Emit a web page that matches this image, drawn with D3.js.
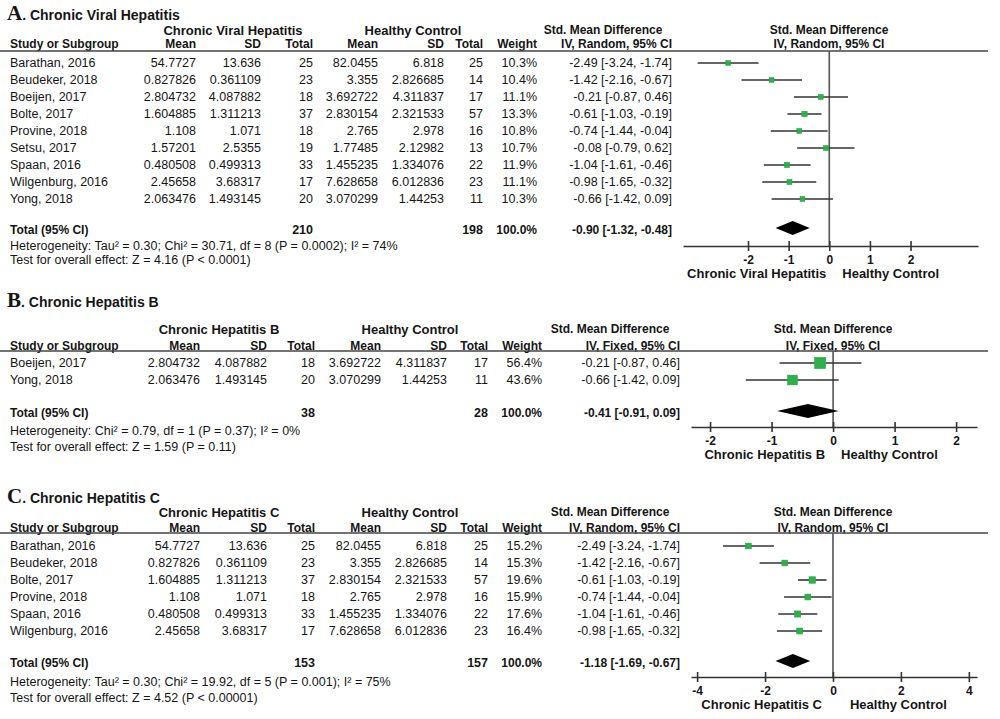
<!DOCTYPE html>
<html>
<head>
<meta charset="utf-8">
<script src="https://cdn.jsdelivr.net/npm/d3@7"></script>
<style>
  body { margin: 0; background: #fff; }
  svg text { font-family: "Liberation Sans", Arial, sans-serif; fill: #151515; }
</style>
</head>
<body>
<div id="canvas"></div>
<script>
// study level data (shared by all three panels)
var studies  = ["Barathan, 2016", "Beudeker, 2018", "Boeijen, 2017", "Bolte, 2017", "Provine, 2018",
                "Setsu, 2017", "Spaan, 2016", "Wilgenburg, 2016", "Yong, 2018"];
var caseMean = [54.7727, 0.827826, 2.804732, 1.604885, 1.108, 1.57201, 0.480508, 2.45658, 2.063476];
var caseSD   = [13.636, 0.361109, 4.087882, 1.311213, 1.071, 2.5355, 0.499313, 3.68317, 1.493145];
var caseN    = [25, 23, 18, 37, 18, 19, 33, 17, 20];
var ctrlMean = [82.0455, 3.355, 3.692722, 2.830154, 2.765, 1.77485, 1.455235, 7.628658, 3.070299];
var ctrlSD   = [6.818, 2.826685, 4.311837, 2.321533, 2.978, 2.12982, 1.334076, 6.012836, 1.44253];
var ctrlN    = [25, 14, 17, 57, 16, 13, 22, 23, 11];
var smd      = [-2.49, -1.42, -0.21, -0.61, -0.74, -0.08, -1.04, -0.98, -0.66];
var ciLow    = [-3.24, -2.16, -0.87, -1.03, -1.44, -0.79, -1.61, -1.65, -1.42];
var ciHigh   = [-1.74, -0.67, 0.46, -0.19, -0.04, 0.62, -0.46, -0.32, 0.09];

// panel membership and weights
var membersA = [0, 1, 2, 3, 4, 5, 6, 7, 8];
var weightsA = [10.3, 10.4, 11.1, 13.3, 10.8, 10.7, 11.9, 11.1, 10.3];
var membersB = [2, 8];
var weightsB = [56.4, 43.6];
var membersC = [0, 1, 3, 4, 6, 7];
var weightsC = [15.2, 15.3, 19.6, 15.9, 17.6, 16.4];

// pooled results: [smd, low, high, caseTotal, ctrlTotal]
var pooledA = [-0.90, -1.32, -0.48, 210, 198];
var pooledB = [-0.41, -0.91, 0.09, 38, 28];
var pooledC = [-1.18, -1.69, -0.67, 153, 157];

var ticksA = [-2, -1, 0, 1, 2];
var ticksB = [-2, -1, 0, 1, 2];
var ticksC = [-4, -2, 0, 2, 4];

var hetA = "Heterogeneity: Tau\u00b2 = 0.30; Chi\u00b2 = 30.71, df = 8 (P = 0.0002); I\u00b2 = 74%";
var hetB = "Heterogeneity: Chi\u00b2 = 0.79, df = 1 (P = 0.37); I\u00b2 = 0%";
var hetC = "Heterogeneity: Tau\u00b2 = 0.30; Chi\u00b2 = 19.92, df = 5 (P = 0.001); I\u00b2 = 75%";
var testA = "Test for overall effect: Z = 4.16 (P < 0.0001)";
var testB = "Test for overall effect: Z = 1.59 (P = 0.11)";
var testC = "Test for overall effect: Z = 4.52 (P < 0.00001)";

var svg = d3.select("#canvas").append("svg").attr("width", 1000).attr("height", 719);

var colsA  = { study: 10, m1: 196, s1: 261, n1: 313, m2: 378, s2: 444, n2: 483, w: 537, ci: 672, g1: 233, g2: 413, smdHead: 603 };
var colsBC = { study: 10, m1: 200, s1: 267, n1: 315, m2: 381, s2: 447, n2: 488, w: 542, ci: 680, g1: 219, g2: 410, smdHead: 610 };

function fmtCI(e, lo, hi) {
    return e.toFixed(2) + " [" + lo.toFixed(2) + ", " + hi.toFixed(2) + "]";
}

function txt(g, x, y, s, anchor, size, bold) {
    return g.append("text")
        .attr("x", x).attr("y", y).attr("dy", "0.35em")
        .attr("text-anchor", anchor || "start")
        .style("font-size", (size || 12.5) + "px")
        .style("font-weight", bold ? "bold" : "normal")
        .text(s);
}

function drawPanel(p) {
    var g = svg.append("g");
    var c = p.cols;

    // title: serif letter + sans label
    var t = g.append("text").attr("x", 7).attr("y", p.titleY).attr("dy", "0.35em");
    t.append("tspan").style("font-family", "'Liberation Serif', 'DejaVu Serif', serif")
        .style("font-size", "21px").style("font-weight", "bold").text(p.letter);
    t.append("tspan").style("font-size", "14px").style("font-weight", "bold").text(". " + p.title);

    // group headers
    txt(g, c.g1, p.groupY, p.group, "middle", 13, true);
    txt(g, c.g2, p.groupY, "Healthy Control", "middle", 13, true);
    txt(g, c.smdHead, p.groupY, "Std. Mean Difference", "middle", 12, true);
    txt(g, p.zeroX, p.groupY, "Std. Mean Difference", "middle", 12, true);

    // column headers
    txt(g, c.study, p.headY, "Study or Subgroup", "start", 12, true);
    [["m1", "Mean"], ["s1", "SD"], ["n1", "Total"], ["m2", "Mean"], ["s2", "SD"], ["n2", "Total"], ["w", "Weight"]]
        .forEach(function(h) { txt(g, c[h[0]], p.headY, h[1], "end", 12, true); });
    txt(g, c.ci, p.headY, "IV, " + p.model + ", 95% CI", "end", 12, true);
    txt(g, p.zeroX, p.headY, "IV, " + p.model + ", 95% CI", "middle", 12, true);

    g.append("line").attr("x1", 0).attr("x2", 988).attr("y1", p.ruleY).attr("y2", p.ruleY)
        .attr("stroke", "#444").attr("stroke-width", 1.6);

    var x = d3.scaleLinear().domain(p.domain).range(p.range);
    var rows = p.members.map(function(idx, i) {
        return { idx: idx, w: p.weights[i], y: p.rowY0 + i * 17 };
    });

    // table rows
    rows.forEach(function(r) {
        var k = r.idx;
        txt(g, c.study, r.y, studies[k], "start");
        txt(g, c.m1, r.y, String(caseMean[k]), "end");
        txt(g, c.s1, r.y, String(caseSD[k]), "end");
        txt(g, c.n1, r.y, String(caseN[k]), "end");
        txt(g, c.m2, r.y, String(ctrlMean[k]), "end");
        txt(g, c.s2, r.y, String(ctrlSD[k]), "end");
        txt(g, c.n2, r.y, String(ctrlN[k]), "end");
        txt(g, c.w, r.y, r.w.toFixed(1) + "%", "end");
        txt(g, c.ci, r.y, fmtCI(smd[k], ciLow[k], ciHigh[k]), "end");
    });

    // totals
    var pl = p.pooled;
    txt(g, c.study, p.totalY, "Total (95% CI)", "start", 12, true);
    txt(g, c.n1, p.totalY, String(pl[3]), "end", 12.5, true);
    txt(g, c.n2, p.totalY, String(pl[4]), "end", 12.5, true);
    txt(g, c.w, p.totalY, "100.0%", "end", 12, true);
    txt(g, c.ci, p.totalY, fmtCI(pl[0], pl[1], pl[2]), "end", 12, true);
    txt(g, c.study, p.hetY, p.het, "start", 12.5);
    txt(g, c.study, p.testY, p.test, "start", 12.5);

    // zero line
    g.append("line").attr("x1", x(0)).attr("x2", x(0)).attr("y1", p.ruleY).attr("y2", p.axisY)
        .attr("stroke", "#555").attr("stroke-width", 1.6);

    // CI lines and squares
    g.selectAll(".ci").data(rows).enter().append("line")
        .attr("x1", function(r) { return x(ciLow[r.idx]); })
        .attr("x2", function(r) { return x(ciHigh[r.idx]); })
        .attr("y1", function(r) { return r.y; })
        .attr("y2", function(r) { return r.y; })
        .attr("stroke", "#333").attr("stroke-width", 1.6);
    g.selectAll(".sq").data(rows).enter().append("rect")
        .attr("x", function(r) { return x(smd[r.idx]) - 0.73 * Math.sqrt(r.w); })
        .attr("y", function(r) { return r.y - 0.73 * Math.sqrt(r.w); })
        .attr("width", function(r) { return 1.46 * Math.sqrt(r.w); })
        .attr("height", function(r) { return 1.46 * Math.sqrt(r.w); })
        .attr("fill", "#2db24a").attr("stroke", "#27a043").attr("stroke-width", 0.6);

    // pooled diamond
    var dy = p.totalY - 2;
    g.append("path")
        .attr("d", "M" + x(pl[1]) + "," + dy + "L" + x(pl[0]) + "," + (dy - 7) +
                   "L" + x(pl[2]) + "," + dy + "L" + x(pl[0]) + "," + (dy + 7) + "Z")
        .attr("fill", "#000");

    // axis
    var ax = g.append("g").attr("transform", "translate(0," + p.axisY + ")")
        .call(d3.axisBottom(x).tickValues(p.ticks).tickFormat(function(d) { return String(d); })
            .tickSizeOuter(0).tickSizeInner(5).tickPadding(4));
    ax.select(".domain").attr("stroke", "#333").attr("stroke-width", 1.6);
    ax.selectAll(".tick line").attr("y1", -5).attr("y2", 5).attr("stroke", "#333").attr("stroke-width", 1.6);
    ax.selectAll(".tick text").style("font-size", "12px").style("font-weight", "bold")
        .style("font-family", "'Liberation Sans', Arial, sans-serif").attr("fill", "#222");

    txt(g, x(0) - p.labGap, p.axisY + 27, p.group, "end", 13, true);
    txt(g, x(0) + p.labGap2, p.axisY + 27, "Healthy Control", "start", 13, true);
}

drawPanel({
    letter: "A", title: "Chronic Viral Hepatitis", group: "Chronic Viral Hepatitis", model: "Random",
    cols: colsA, members: membersA, weights: weightsA, pooled: pooledA, het: hetA, test: testA, ticks: ticksA,
    titleY: 14, groupY: 30, headY: 44, ruleY: 51, rowY0: 63, totalY: 230, hetY: 246, testY: 260,
    axisY: 246, domain: [-3.6, 3.66], range: [683, 978], zeroX: 829, labGap: 3, labGap2: 13
});
drawPanel({
    letter: "B", title: "Chronic Hepatitis B", group: "Chronic Hepatitis B", model: "Fixed",
    cols: colsBC, members: membersB, weights: weightsB, pooled: pooledB, het: hetB, test: testB, ticks: ticksB,
    titleY: 301, groupY: 329, headY: 346, ruleY: 351, rowY0: 363, totalY: 413, hetY: 431, testY: 447,
    axisY: 427, domain: [-2.31, 2.34], range: [691, 977], zeroX: 833, labGap: 8, labGap2: 8
});
drawPanel({
    letter: "C", title: "Chronic Hepatitis C", group: "Chronic Hepatitis C", model: "Random",
    cols: colsBC, members: membersC, weights: weightsC, pooled: pooledC, het: hetC, test: testC, ticks: ticksC,
    titleY: 497, groupY: 512, headY: 528, ruleY: 533, rowY0: 546, totalY: 663, hetY: 682, testY: 698,
    axisY: 677, domain: [-4.18, 4.24], range: [691, 977], zeroX: 833, labGap: 11, labGap2: 17
});
</script>
</body>
</html>
